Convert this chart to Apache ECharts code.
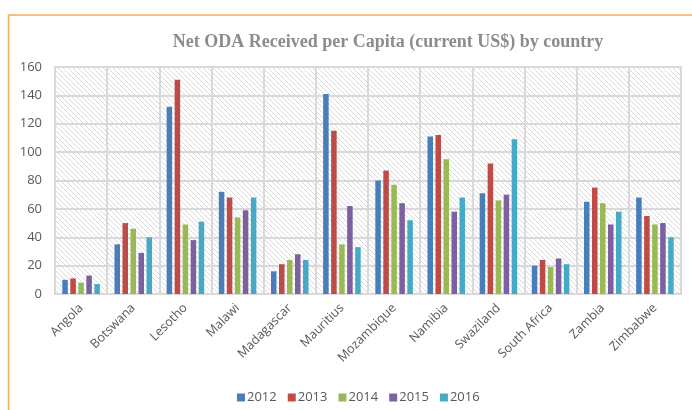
<!DOCTYPE html>
<html><head><meta charset="utf-8">
<script src="https://cdn.jsdelivr.net/npm/echarts@6/dist/echarts.min.js"></script>
<style>html,body{margin:0;padding:0;background:#fff}#c{width:692px;height:410px}</style>
</head><body><div id="c"></div>
<script>
const countries = ['Angola','Botswana','Lesotho','Malawi','Madagascar','Mauritius','Mozambique','Namibia','Swaziland','South Africa','Zambia','Zimbabwe'];
const years = ['2012','2013','2014','2015','2016'];
const v2012 = [10, 35, 132, 72, 16, 141, 80, 111, 71, 20, 65, 68];
const v2013 = [11, 50, 151, 68, 21, 115, 87, 112, 92, 24, 75, 55];
const v2014 = [8, 46, 49, 54, 24, 35, 77, 95, 66, 19, 64, 49];
const v2015 = [13, 29, 38, 59, 28, 62, 64, 58, 70, 25, 49, 50];
const v2016 = [7, 40, 51, 68, 24, 33, 52, 68, 109, 21, 58, 40];
const yTicks = [0, 20, 40, 60, 80, 100, 120, 140, 160];
const colors = ['#4A7EBB', '#BE4B48', '#98B954', '#7D60A0', '#46AAC5'];

const pc = document.createElement('canvas');
pc.width = 5; pc.height = 5;
const g = pc.getContext('2d');
g.fillStyle = '#ffffff'; g.fillRect(0,0,5,5);
g.strokeStyle = '#dadada'; g.lineWidth = 1;
g.beginPath(); g.moveTo(-1,-1); g.lineTo(6,6); g.moveTo(-1,4); g.lineTo(1,6); g.moveTo(4,-1); g.lineTo(6,1); g.stroke();

const chart = echarts.init(document.getElementById('c'), null, {renderer: 'canvas'});
const seriesData = [v2012, v2013, v2014, v2015, v2016];
const lblFont = 'Open Sans';
chart.setOption({
  animation: false,
  title: {
    text: 'Net ODA Received per Capita (current US$) by country',
    left: 383, top: 28, textAlign: 'center',
    textStyle: {fontFamily: 'Liberation Serif', fontWeight: 'bold', fontSize: 18, color: '#8c8c8c'}
  },
  graphic: [{
    type: 'rect', shape: {x: 8.5, y: 15, width: 700, height: 420},
    style: {fill: 'none', stroke: '#F2AE55', lineWidth: 1.5}, z: 100
  }],
  legend: {
    data: years, left: 232, top: 386, itemWidth: 8, itemHeight: 8, itemGap: 11,
    icon: 'rect',
    textStyle: {fontFamily: lblFont, fontSize: 13, color: '#595959', padding: [0,0,0,-3]}
  },
  grid: {
    left: 55, top: 67, right: 11, bottom: 116, show: true,
    backgroundColor: {image: pc, repeat: 'repeat'},
    borderColor: '#d9d9d9', borderWidth: 2
  },
  xAxis: {
    type: 'category', data: countries,
    axisLine: {show: true, lineStyle: {color: '#d9d9d9', width: 2}},
    axisTick: {show: false},
    splitLine: {show: true, lineStyle: {color: '#d9d9d9', width: 2}},
    axisLabel: {rotate: 45, interval: 0, fontFamily: lblFont, fontSize: 12.5, color: '#595959', margin: 12}
  },
  yAxis: {
    type: 'value', min: yTicks[0], max: yTicks[yTicks.length-1], interval: 20,
    axisLine: {show: false}, axisTick: {show: false},
    splitLine: {lineStyle: {color: '#d9d9d9', width: 2}},
    axisLabel: {fontFamily: lblFont, fontSize: 13, color: '#595959', margin: 13}
  },
  series: years.map((y, i) => ({
    name: y, type: 'bar', data: seriesData[i],
    itemStyle: {color: colors[i]},
    barGap: '45%', barCategoryGap: '28%'
  }))
});
</script></body></html>
